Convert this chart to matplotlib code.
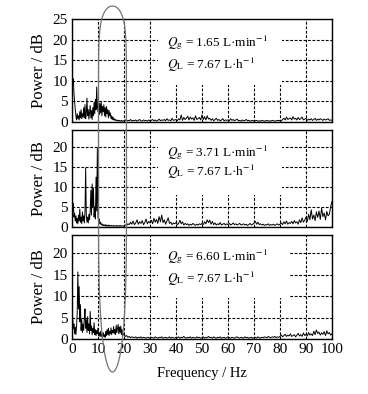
import numpy as np
import matplotlib
matplotlib.use("Agg")
import matplotlib.pyplot as plt
from matplotlib.patches import Rectangle
from matplotlib.lines import Line2D

plt.rcParams['font.family'] = ['Liberation Serif', 'DejaVu Serif']
plt.rcParams['mathtext.fontset'] = 'stix'

# frequency grids (Hz): fine below 20 Hz, coarser above
freq_lo = np.arange(0, 20, 0.25)
freq_hi = np.arange(20, 100.25, 0.5)

# Qg = 1.65 L/min
p1_lo = [11, 9.5, 10.5, 7, 5, 3, 1.5, 0.5, 2, 0.8,
         1.5, 0.5, 2.5, 1, 3, 0.8, 2, 1.2, 3.5, 1,
         4.2, 0.8, 2, 5.8, 1.5, 3, 0.7, 2.5, 4, 1,
         2.8, 0.6, 3.5, 1.5, 4.8, 2, 5.5, 3, 8.5, 4,
         2.5, 5.2, 1.8, 4.5, 2.2, 4.8, 1.5, 3.8, 2.5, 4.2,
         1.5, 3.5, 1.2, 3.8, 2, 3, 1, 2.8, 1.5, 2.2,
         0.8, 1.5, 0.6, 1.2, 0.5, 0.8, 0.4, 0.6, 0.3, 0.5,
         0.3, 0.4, 0.2, 0.4, 0.3, 0.2, 0.4, 0.2, 0.3, 0.2]
p1_hi = [0.3, 0.5, 0.2, 0.4, 0.3, 0.6, 0.2, 0.4, 0.3, 0.5, 0.2, 0.4, 0.6, 0.3, 0.2, 0.5, 0.3, 0.4, 0.2, 0.5,
         0.3, 0.4, 0.6, 0.3, 0.5, 0.2, 0.4, 0.7, 0.3, 0.5, 0.4, 0.6, 0.3, 0.8, 0.4, 0.5, 0.3, 0.9, 0.4, 0.5,
         0.6, 0.3, 0.8, 0.5, 1.7, 0.4, 1.1, 0.6, 0.9, 1.4, 0.5, 1.2, 0.7, 1.0, 0.4, 1.5, 0.6, 0.8, 1.1, 0.5,
         1.7, 0.6, 1.3, 0.5, 1.5, 0.7, 0.9, 0.4, 0.8, 0.3, 0.6, 0.9, 0.4, 0.6, 0.3, 0.5, 0.8, 0.3, 0.5, 0.4,
         0.5, 0.3, 0.8, 0.4, 0.6, 0.3, 0.5, 0.7, 0.3, 0.4, 0.2, 0.5, 0.3, 0.4, 0.6, 0.3, 0.4, 0.2, 0.3, 0.4,
         0.2, 0.3, 0.4, 0.2, 0.3, 0.2, 0.4, 0.3, 0.2, 0.3, 0.4, 0.2, 0.3, 0.2, 0.4, 0.3, 0.2, 0.3, 0.4, 0.3,
         0.4, 0.3, 0.6, 0.9, 0.5, 1.2, 0.6, 0.8, 1.0, 0.5, 1.3, 0.7, 0.9, 0.5, 1.1, 0.6, 0.8, 1.2, 0.5, 0.7,
         0.9, 0.4, 0.7, 0.5, 0.8, 0.4, 0.6, 0.9, 0.4, 0.7, 0.5, 0.8, 0.6, 0.4, 0.7, 0.5, 0.6, 0.8, 0.4, 0.5,
         0.4]

# Qg = 3.71 L/min
p2_lo = [7, 4, 6, 2.5, 3.5, 1.5, 2.8, 1, 2.2, 0.8,
         3, 1.5, 4.5, 1.2, 2.5, 0.8, 3.8, 1.5, 2.8, 1,
         4, 14.8, 3, 1.2, 2.5, 1, 3.2, 1.8, 4, 9.2,
         3, 10.8, 5, 9.8, 2.5, 5, 2, 12.5, 4, 19.8,
         2.5, 1.5, 2, 0.8, 1.2, 0.5, 0.8, 0.4, 0.6, 0.3,
         0.5, 0.3, 0.6, 0.2, 0.4, 0.3, 0.5, 0.2, 0.4, 0.3,
         0.2, 0.4, 0.3, 0.2, 0.4, 0.3, 0.2, 0.3, 0.2, 0.4,
         0.3, 0.2, 0.3, 0.2, 0.4, 0.2, 0.3, 0.2, 0.3, 0.2]
p2_hi = [0.3, 0.5, 0.4, 0.8, 0.6, 1.2, 0.7, 1.5, 0.6, 1.0, 1.8, 0.7, 1.3, 0.9, 1.6, 0.6, 1.1, 2.0, 0.8, 1.4,
         1.0, 1.7, 0.8, 2.2, 1.2, 1.9, 0.9, 2.6, 1.3, 3.0, 1.1, 1.8, 0.7, 1.5, 2.3, 0.9, 1.2, 0.6, 1.0, 0.8,
         1.1, 0.6, 0.9, 1.7, 0.8, 1.3, 0.5, 0.9, 0.6, 0.8, 0.4, 0.7, 0.5, 0.9, 0.6, 0.4, 0.7, 0.5, 0.8, 0.6,
         0.9, 0.6, 1.3, 0.8, 1.8, 1.1, 1.7, 0.7, 1.4, 0.6, 1.0, 0.5, 0.8, 0.6, 1.1, 0.5, 0.7, 0.9, 0.5, 0.8,
         0.6, 0.9, 0.5, 0.7, 1.0, 0.6, 0.8, 0.5, 0.7, 0.9, 0.5, 0.6, 0.8, 0.5, 0.7, 0.4, 0.6, 0.9, 0.5, 0.7,
         1.0, 1.4, 0.7, 1.2, 0.6, 0.8, 0.5, 0.7, 0.4, 0.6, 0.5, 0.8, 0.4, 0.6, 0.5, 0.7, 0.4, 0.6, 0.8, 0.5,
         0.7, 1.0, 0.6, 1.3, 0.8, 1.5, 0.7, 1.1, 0.9, 1.4, 0.8, 1.6, 1.0, 1.3, 0.7, 1.8, 1.1, 2.3, 1.2, 1.7,
         2.5, 1.4, 3.2, 1.8, 4.3, 2.0, 3.0, 1.6, 3.8, 2.4, 4.0, 1.9, 4.7, 2.6, 3.5, 1.8, 3.9, 2.8, 3.2, 5.2,
         6.4]

# Qg = 6.60 L/min
p3_lo = [8.5, 5, 2.5, 3.5, 1.2, 2.8, 1, 3, 6, 15.6,
         7, 12.2, 4, 8, 2, 4.5, 1.5, 3.5, 2, 5,
         7, 2.5, 4.5, 1.5, 5.2, 2, 3.5, 1.2, 6.4, 2,
         3, 1, 2.5, 1.5, 3.8, 1, 2.2, 0.8, 2, 1.2,
         2.5, 0.8, 1.5, 0.6, 1.8, 0.5, 1.2, 0.7, 1.5, 0.5,
         1, 0.4, 1.8, 0.8, 2.2, 1, 2.5, 0.8, 1.8, 1.2,
         2.6, 1, 2, 1.5, 2.9, 1.2, 2.2, 1, 3.2, 1.5,
         2.5, 3.4, 1.2, 2.8, 1.5, 3, 1, 2.2, 0.8, 1.2]
p3_hi = [1.0, 0.6, 0.8, 0.4, 0.6, 0.3, 0.5, 0.4, 0.3, 0.5, 0.2, 0.4, 0.3, 0.5, 0.2, 0.4, 0.3, 0.2, 0.4, 0.3,
         0.2, 0.4, 0.3, 0.2, 0.5, 0.3, 0.2, 0.4, 0.3, 0.5, 0.2, 0.3, 0.4, 0.2, 0.3, 0.5, 0.2, 0.4, 0.3, 0.2,
         0.4, 0.3, 0.5, 0.2, 0.4, 0.3, 0.6, 0.3, 0.2, 0.4, 0.3, 0.5, 0.2, 0.4, 0.3, 0.2, 0.5, 0.3, 0.4, 0.2,
         0.3, 0.5, 0.2, 0.4, 0.3, 0.6, 0.3, 0.4, 0.2, 0.5, 0.3, 0.2, 0.4, 0.3, 0.5, 0.2, 0.3, 0.4, 0.2, 0.3,
         0.5, 0.3, 0.2, 0.4, 0.3, 0.2, 0.4, 0.5, 0.3, 0.2, 0.4, 0.3, 0.2, 0.5, 0.3, 0.4, 0.2, 0.3, 0.4, 0.2,
         0.3, 0.4, 0.2, 0.5, 0.3, 0.2, 0.4, 0.3, 0.5, 0.4, 0.3, 0.6, 0.4, 0.3, 0.5, 0.4, 0.6, 0.3, 0.5, 0.4,
         0.6, 0.9, 0.5, 0.8, 1.1, 0.6, 0.9, 0.7, 1.2, 0.6, 0.8, 1.0, 0.5, 0.9, 1.3, 0.7, 1.0, 0.6, 1.4, 0.8,
         1.1, 0.7, 1.5, 0.9, 1.2, 0.8, 1.8, 1.0, 2.1, 1.3, 1.6, 0.9, 1.4, 1.1, 1.7, 0.8, 1.9, 1.2, 1.5, 0.9,
         1.2]

qg_labels = ['1.65', '3.71', '6.60']
ql_label = '7.67'
yticks_top = [0, 5, 10, 15, 20, 25]
yticks = [0, 5, 10, 15, 20]
xticks = [0, 10, 20, 30, 40, 50, 60, 70, 80, 90, 100]

W, H = 368, 394
fig = plt.figure(figsize=(W / 100, H / 100), dpi=100)

# panel boxes in pixels: (top, bottom)
boxes = [(19, 122), (130, 227), (235, 339)]
ylims = [25, 24.3, 24.2]
# white patches that hide the grid behind the flow-rate text: (x0, x1, y0)
masks = [(33, 80.8, 9), (33, 80.8, 8), (33, 83.5, 9.5)]
text_y = [(0.77, 0.55), (0.77, 0.57), (0.79, 0.58)]
spectra = [(p1_lo, p1_hi), (p2_lo, p2_hi), (p3_lo, p3_hi)]

for i in range(3):
    top, bot = boxes[i]
    ax = fig.add_axes([72 / W, 1 - bot / H, 260 / W, (bot - top) / H])
    lo, hi = spectra[i]
    f = np.concatenate([freq_lo, freq_hi])
    p = np.concatenate([lo, hi])
    ax.plot(f, p, color='black', lw=0.7, zorder=2)
    ax.set_xlim(0, 100)
    ax.set_ylim(0, ylims[i])
    ax.set_xticks(xticks)
    ax.set_yticks(yticks_top if i == 0 else yticks)
    ax.set_axisbelow(True)
    ax.grid(True, color='black', lw=0.8, linestyle=(0, (2.5, 1.5)))
    ax.tick_params(length=0, labelsize=11, pad=3)
    if i < 2:
        ax.tick_params(labelbottom=False)
    for s in ax.spines.values():
        s.set_linewidth(1.0)
    x0, x1, y0 = masks[i]
    ax.add_patch(Rectangle((x0, y0), x1 - x0, ylims[i] - y0, facecolor='white',
                           edgecolor='none', zorder=1))
    ty1, ty2 = text_y[i]
    ax.text(36.5, ty1, r'$Q_{\mathrm{g}}$ = ' + qg_labels[i] + r' L·min$^{-1}$',
            transform=ax.get_xaxis_transform(), fontsize=9.5, va='center', zorder=3)
    ax.text(36.5, ty2, r'$Q_{\mathrm{L}}$ = ' + ql_label + r' L·h$^{-1}$',
            transform=ax.get_xaxis_transform(), fontsize=9.5, va='center', zorder=3)
    ax.set_ylabel('Power / dB', fontsize=12, labelpad=4)
    if i == 2:
        ax.set_xlabel('Frequency / Hz', fontsize=10.5, labelpad=8)

# hand-drawn grey loop around 10-20 Hz, spanning all panels
t = np.linspace(0, 2 * np.pi, 400)
xc, yc, a, b = 112.5, 189, 14, 183
s = np.sin(t)
ny = np.where(s > 0, 12, 3.5)
ex = xc + a * np.cos(t)
ey = yc - b * np.sign(s) * np.abs(s) ** (2 / ny)
fig.add_artist(Line2D(ex / W, 1 - ey / H, transform=fig.transFigure,
                      color='0.45', lw=0.9))

fig.savefig('out.png', dpi=100)
